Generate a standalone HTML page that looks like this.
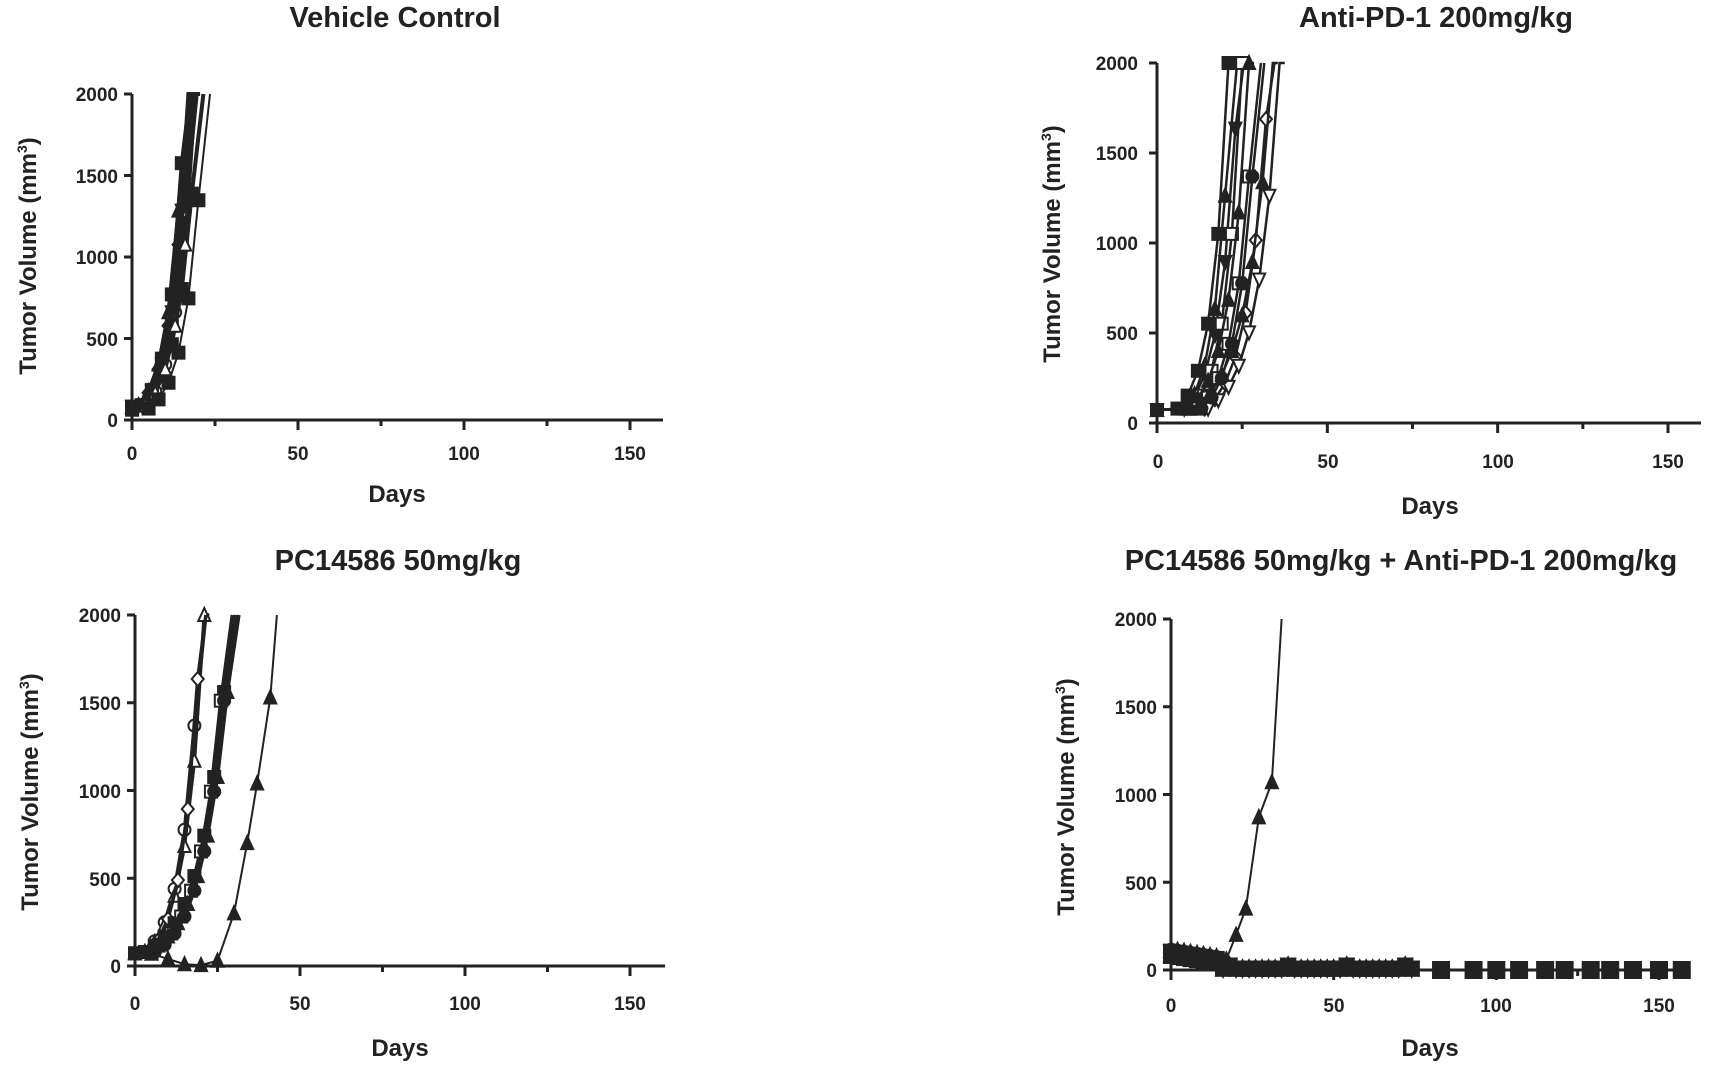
<!DOCTYPE html>
<html><head><meta charset="utf-8"><style>
html,body{margin:0;padding:0;background:#fff;width:1732px;height:1069px;overflow:hidden}
svg{display:block}
text{font-family:"Liberation Sans",Arial,sans-serif;font-weight:bold;fill:#222}
</style></head><body>
<svg id="s" width="1732" height="1069" viewBox="0 0 1732 1069">
<g id="axes" stroke="#222" stroke-width="3" fill="none"></g>
<g id="data"></g>
<text x="395" y="27" font-size="29" text-anchor="middle">Vehicle Control</text>
<text x="1436" y="27" font-size="29" text-anchor="middle">Anti-PD-1 200mg/kg</text>
<text x="398" y="570" font-size="29" text-anchor="middle">PC14586 50mg/kg</text>
<text x="1401" y="570" font-size="29" text-anchor="middle">PC14586 50mg/kg + Anti-PD-1 200mg/kg</text>
<g font-size="19" text-anchor="end">
<text x="118" y="101">2000</text><text x="118" y="183">1500</text><text x="118" y="264">1000</text><text x="118" y="346">500</text><text x="118" y="427">0</text>
<text x="1138" y="70">2000</text><text x="1138" y="160">1500</text><text x="1138" y="250">1000</text><text x="1138" y="340">500</text><text x="1138" y="430">0</text>
<text x="121" y="622">2000</text><text x="121" y="710">1500</text><text x="121" y="798">1000</text><text x="121" y="886">500</text><text x="121" y="973">0</text>
<text x="1157" y="626">2000</text><text x="1157" y="714">1500</text><text x="1157" y="802">1000</text><text x="1157" y="890">500</text><text x="1157" y="977">0</text>
</g>
<g font-size="19" text-anchor="middle">
<text x="132" y="460">0</text><text x="298" y="460">50</text><text x="464" y="460">100</text><text x="630" y="460">150</text>
<text x="1158" y="468">0</text><text x="1328" y="468">50</text><text x="1498" y="468">100</text><text x="1668" y="468">150</text>
<text x="135" y="1010">0</text><text x="300" y="1010">50</text><text x="465" y="1010">100</text><text x="630" y="1010">150</text>
<text x="1171" y="1012">0</text><text x="1334" y="1012">50</text><text x="1496" y="1012">100</text><text x="1659" y="1012">150</text>
</g>
<g font-size="24" text-anchor="middle">
<text x="397" y="502">Days</text><text x="1430" y="514">Days</text><text x="400" y="1056">Days</text><text x="1430" y="1056">Days</text>
<text transform="translate(36,256) rotate(-90)">Tumor Volume (mm<tspan font-size="14" dy="-9">3</tspan><tspan dy="9">)</tspan></text>
<text transform="translate(1060,244) rotate(-90)">Tumor Volume (mm<tspan font-size="14" dy="-9">3</tspan><tspan dy="9">)</tspan></text>
<text transform="translate(38,792) rotate(-90)">Tumor Volume (mm<tspan font-size="14" dy="-9">3</tspan><tspan dy="9">)</tspan></text>
<text transform="translate(1074,797) rotate(-90)">Tumor Volume (mm<tspan font-size="14" dy="-9">3</tspan><tspan dy="9">)</tspan></text>
</g>
</svg>
<script>
var P=[
 {x0:132,x150:630,xe:663,yt:94,yz:420},
 {x0:1157,x150:1668,xe:1701,yt:63,yz:423},
 {x0:135,x150:630,xe:665,yt:615,yz:966},
 {x0:1171,x150:1659,xe:1690,yt:619,yz:970}
];
var ax=document.getElementById('axes'),dg=document.getElementById('data');
var NS='http://www.w3.org/2000/svg';
function el(t,a,p){var e=document.createElementNS(NS,t);for(var k in a)e.setAttribute(k,a[k]);p.appendChild(e);return e;}
P.forEach(function(p){
 var ax0=p.x0;
 el('path',{d:'M'+ax0+' '+p.yt+'V'+(p.yz+0)+'M'+(ax0-8)+' '+p.yz+'H'+p.xe},ax);
 for(var v=0;v<=2000;v+=500){var y=p.yz-v*(p.yz-p.yt)/2000;el('path',{d:'M'+(ax0-8)+' '+y+'H'+ax0},ax);}
 for(var d=0;d<=150;d+=25){var x=p.x0+d*(p.x150-p.x0)/150;el('path',{d:'M'+x+' '+p.yz+'V'+(p.yz+(d%50==0?10:6))},ax);}
});
function X(p,d){return p.x0+d*(p.x150-p.x0)/150}
function Y(p,v){return p.yz-Math.min(v,2000)*(p.yz-p.yt)/2000}
function mk(x,y,m,f,sz){var a={fill:f?'#222':'#fff',stroke:'#222','stroke-width':2};var s=sz||6;
 if(m=='s'){a.x=x-s;a.y=y-s;a.width=2*s;a.height=2*s;el('rect',a,dg);}
 else if(m=='o'){a.cx=x;a.cy=y;a.r=s;el('circle',a,dg);}
 else if(m=='t'){a.points=x+','+(y-s-1)+' '+(x-s)+','+(y+s)+' '+(x+s)+','+(y+s);el('polygon',a,dg);}
 else if(m=='v'){a.points=x+','+(y+s+1)+' '+(x-s)+','+(y-s)+' '+(x+s)+','+(y-s);el('polygon',a,dg);}
 else {a.points=x+','+(y-s-1)+' '+(x-s)+','+y+' '+x+','+(y+s+1)+' '+(x+s)+','+y;el('polygon',a,dg);}}
function curve(pi,start,end,v0,m,f,w,step){var p=P[pi];step=step||3;var pts=[];
 var k=Math.log(2000/v0)/(end-start);
 pts.push([0,v0*0.9]);
 for(var d=start;d<=end+0.01;d+=step)pts.push([d,v0*Math.exp(k*(d-start))]);
 pts.push([end+1.5,2300]);
 var s='';pts.forEach(function(q,i){s+=(i?'L':'M')+X(p,q[0]).toFixed(1)+' '+Y(p,q[1]).toFixed(1);});
 el('path',{d:s,fill:'none',stroke:'#222','stroke-width':w||3},dg);
 pts.forEach(function(q){if(q[1]<2000)mk(X(p,q[0]),Y(p,q[1]),m,f);});}
[[3,16,'s',1],[3,17,'o',1],[2,16,'t',1],[3,18,'s',0],[2,17,'d',1],[4,18,'o',0],[3,20,'s',1],[3,17,'v',1],[4,19,'t',0]].forEach(function(c){curve(0,c[0],c[1],90,c[2],c[3],4,3);});
curve(0,5,22,70,'s',1,2,3);
[[6,21,'s',1],[8,22,'t',1],[8,24,'v',1],[10,25,'s',0],[9,27,'t',1],[12,29,'s',0],[14,33,'d',0],[15,36,'v',0],[13,30,'o',1],[10,34,'t',1]].forEach(function(c){curve(1,c[0],c[1],80,c[2],c[3],2.5,3);});
[[3,20,'o',0],[3,21,'t',0],[4,20,'d',0],[3,29,'s',1],[5,28,'s',0],[6,29,'o',1],[4,30,'t',1]].forEach(function(c){curve(2,c[0],c[1],80,c[2],c[3],3.5,3);});
(function(){var p=P[2];var pts=[[0,80],[5,70],[10,40],[15,10],[20,5],[25,30],[30,300],[34,700],[37,1040],[41,1530],[43,2100]];
 var s='';pts.forEach(function(q,i){s+=(i?'L':'M')+X(p,q[0])+' '+Y(p,q[1]);});el('path',{d:s,fill:'none',stroke:'#222','stroke-width':2},dg);
 pts.forEach(function(q){if(q[1]<2000)mk(X(p,q[0]),Y(p,q[1]),'t',1);});})();
(function(){var p=P[3];var ms=['s','o','t','d','v','s','o','t'];
 for(var i=0;i<8;i++){var pts=[];for(var d=0;d<=75;d+=2){var v=d<15?80-d*3+(i*5):(d%9==0?25:8);pts.push([d,v]);}
  var s='';pts.forEach(function(q,j){s+=(j?'L':'M')+X(p,q[0])+' '+Y(p,q[1]);});el('path',{d:s,fill:'none',stroke:'#222','stroke-width':3},dg);
  pts.forEach(function(q){mk(X(p,q[0]),Y(p,q[1]),ms[i],1,7);});}
 el('path',{d:'M'+X(p,75)+' '+Y(p,0)+'H'+X(p,157),stroke:'#222','stroke-width':3},dg);
 [83,93,100,107,115,121,129,135,142,150,157].forEach(function(d){el('rect',{x:X(p,d)-9,y:Y(p,0)-9,width:18,height:18,fill:'#222'},dg);});
 var pts=[[0,80],[5,70],[10,60],[15,50],[17,60],[20,200],[23,350],[27,870],[31,1070],[34,2000]];
 var s='';pts.forEach(function(q,i){s+=(i?'L':'M')+X(p,q[0])+' '+Y(p,q[1]);});el('path',{d:s,fill:'none',stroke:'#222','stroke-width':2},dg);
 pts.forEach(function(q){if(q[1]<1900)mk(X(p,q[0]),Y(p,q[1]),'t',1);});})();
</script>
</body></html>
